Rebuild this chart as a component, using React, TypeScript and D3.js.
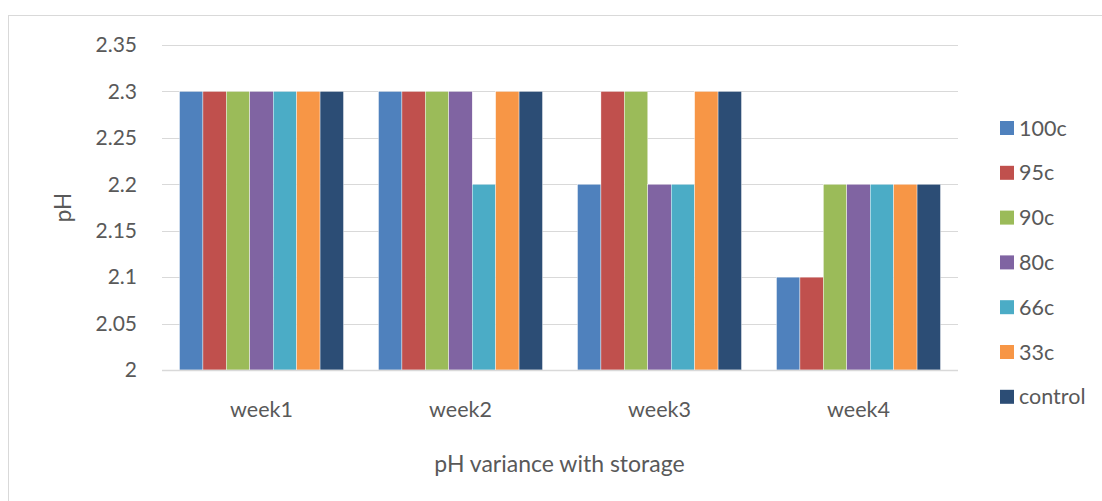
import React from "react";
import * as d3 from "d3";

const categories = ["week1", "week2", "week3", "week4"];
const seriesNames = ["100c", "95c", "90c", "80c", "66c", "33c", "control"];
const seriesColors = ["#4F81BD", "#C0504D", "#9BBB59", "#8064A2", "#4BACC6", "#F79646", "#2C4D75"];
const values100c = [2.3, 2.3, 2.2, 2.1];
const values95c = [2.3, 2.3, 2.3, 2.1];
const values90c = [2.3, 2.3, 2.3, 2.2];
const values80c = [2.3, 2.3, 2.2, 2.2];
const values66c = [2.3, 2.2, 2.2, 2.2];
const values33c = [2.3, 2.3, 2.3, 2.2];
const valuesControl = [2.3, 2.3, 2.3, 2.2];
const seriesValues = [values100c, values95c, values90c, values80c, values66c, values33c, valuesControl];
const yTicks = [2, 2.05, 2.1, 2.15, 2.2, 2.25, 2.3, 2.35];
const yTitle = "pH";
const xTitle = "pH variance with storage";

const W = 1102;
const H = 501;
const plot = { left: 162, right: 958, top: 45, bottom: 370 };
const font = "Lato, 'Open Sans', sans-serif";
const textColor = "#595959";

export default function App() {
  const y = d3.scaleLinear().domain([2, 2.35]).range([plot.bottom, plot.top]);
  const x0 = d3.scaleBand<string>().domain(categories).range([plot.left, plot.right]).paddingInner(0.176).paddingOuter(0.088);
  const x1 = d3.scaleBand<string>().domain(seriesNames).range([0, x0.bandwidth()]);

  return (
    <svg width={W} height={H} style={{ position: "absolute", left: 0, top: 0 }}>
      <rect x={0} y={0} width={W} height={H} fill="#fff" />
      <rect x={8.5} y={15.5} width={1100} height={520} fill="none" stroke="#d9d9d9" strokeWidth={1} />
      {yTicks.map((t) => (
        <g key={t}>
          <line x1={plot.left} x2={plot.right} y1={Math.round(y(t)) + 0.5} y2={Math.round(y(t)) + 0.5} stroke="#d9d9d9" strokeWidth={1} />
          <text x={137} y={y(t)} dy="0.35em" textAnchor="end" fontFamily={font} fontSize={21} fill={textColor}>
            {String(t)}
          </text>
        </g>
      ))}
      {categories.map((c, ci) => (
        <g key={c} transform={`translate(${x0(c)},0)`}>
          {seriesNames.map((s, si) => {
            const v = seriesValues[si][ci];
            return (
              <rect
                key={s}
                x={x1(s)}
                y={y(v)}
                width={x1.bandwidth()}
                height={y(2) - y(v)}
                fill={seriesColors[si]}
                stroke="#fff"
                strokeWidth={0.4}
              />
            );
          })}
          <text x={x0.bandwidth() / 2} y={417} textAnchor="middle" fontFamily={font} fontSize={21.5} fill={textColor}>
            {c}
          </text>
        </g>
      ))}
      <line x1={plot.left} x2={plot.right} y1={y(2) + 0.5} y2={y(2) + 0.5} stroke="#d9d9d9" strokeWidth={1.5} />
      <text
        transform={`translate(63,207.5) rotate(-90)`}
        textAnchor="middle"
        fontFamily={font}
        fontSize={22.5}
        fill={textColor}
        dy="0.35em"
      >
        {yTitle}
      </text>
      <text x={559.5} y={472} textAnchor="middle" fontFamily={font} fontSize={23} fill={textColor}>
        {xTitle}
      </text>
      {seriesNames.map((s, i) => {
        const cy = 128 + i * 44.8;
        return (
          <g key={s}>
            <rect x={1000} y={cy - 7} width={14} height={14} fill={seriesColors[i]} />
            <text x={1019} y={cy} dy="0.35em" fontFamily={font} fontSize={21.5} fill={textColor}>
              {s}
            </text>
          </g>
        );
      })}
    </svg>
  );
}
